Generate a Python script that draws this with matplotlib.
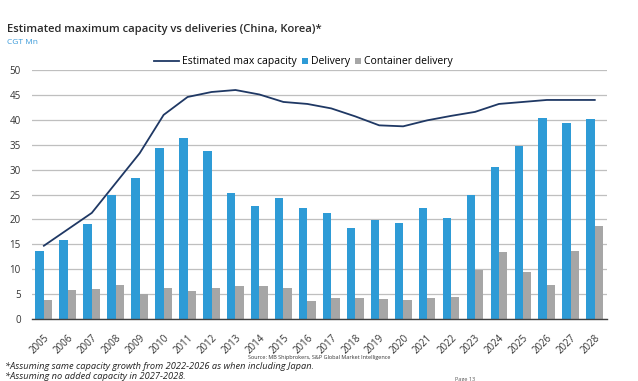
import matplotlib
matplotlib.use("Agg")
import matplotlib.pyplot as plt
import numpy as np

years = [str(y) for y in range(2005, 2029)]
delivery = [13.7, 15.9, 19.1, 24.9, 28.3, 34.3, 36.3, 33.7, 25.3, 22.7, 24.3, 22.3,
            21.3, 18.3, 19.9, 19.3, 22.3, 20.3, 24.9, 30.5, 34.7, 40.4, 39.4, 40.2]
container = [3.8, 5.9, 6.0, 6.9, 5.1, 6.2, 5.6, 6.2, 6.6, 6.7, 6.3, 3.6,
             4.2, 4.3, 3.9, 3.8, 4.1, 4.4, 9.9, 13.5, 9.5, 6.8, 13.7, 18.7]
capacity = [14.7, 18.0, 21.3, 27.3, 33.3, 41.0, 44.6, 45.6, 46.0, 45.1, 43.6, 43.2,
            42.3, 40.7, 38.9, 38.7, 39.9, 40.8, 41.6, 43.2, 43.6, 44.0, 44.0, 44.0]
yticks = list(range(0, 55, 5))

plt.rcParams['font.family'] = ['Open Sans', 'DejaVu Sans']

fig = plt.figure(figsize=(6.38, 3.81), dpi=100)
ax = fig.add_axes([0.050, 0.163, 0.901, 0.653])

x = np.arange(len(years))
w = 0.35
blue = '#2E9BD6'
gray = '#A6A6A6'
navy = '#1F3864'
b1 = ax.bar(x - w/2, delivery, width=w, color=blue, label='Delivery', zorder=2)
b2 = ax.bar(x + w/2, container, width=w, color=gray, label='Container delivery', zorder=2)
ln, = ax.plot(x, capacity, color=navy, lw=1.3, label='Estimated max capacity', zorder=3)

ax.set_xlim(-0.5, len(years) - 0.5)
ax.set_ylim(0, 50)
ax.set_yticks(yticks)
ax.set_yticklabels([str(t) for t in yticks], fontsize=7, color='#333333')
ax.set_xticks(x)
ax.set_xticklabels(years, rotation=45, ha='right', rotation_mode='anchor', fontsize=7, color='#333333')
ax.tick_params(length=0)
ax.tick_params(axis='y', pad=8)
ax.tick_params(axis='x', pad=10)
ax.grid(axis='y', color='#BFBFBF', lw=0.9, zorder=0)
for s in ['top', 'right', 'left']:
    ax.spines[s].set_visible(False)
ax.spines['bottom'].set_color('#404040')
ax.spines['bottom'].set_linewidth(1.0)

ax.legend([ln, b1, b2], ['Estimated max capacity', 'Delivery', 'Container delivery'],
          loc='center', bbox_to_anchor=(0.489, 1.033), ncol=3, frameon=False, fontsize=7.5,
          handlelength=0.55, handleheight=0.55, handletextpad=0.3, columnspacing=0.5,
          borderaxespad=0.0, borderpad=0.0)
leg = ax.get_legend()
lh = leg.legend_handles[0]
xd = lh.get_xdata()
lh.set_xdata([xd[0] - 14, xd[-1]])
lh.set_ydata([lh.get_ydata()[0]] * 2)

fig.text(0.011, 0.915, 'Estimated maximum capacity vs deliveries (China, Korea)*',
         fontsize=8.1, fontweight='semibold', color='#2a2a2a', va='baseline')
fig.text(0.011, 0.885, 'CGT Mn', fontsize=6, color='#3A9AD9', va='baseline')
fig.text(0.5, 0.057, 'Source: MB Shipbrokers, S&P Global Market Intelligence',
         fontsize=4, color='#333333', ha='center', va='baseline')
fig.text(0.008, 0.032, '*Assuming same capacity growth from 2022-2026 as when including Japan.',
         fontsize=6.7, style='italic', color='#222222', va='baseline')
fig.text(0.008, 0.004, '*Assuming no added capacity in 2027-2028.',
         fontsize=6.7, style='italic', color='#222222', va='baseline')
fig.text(0.713, 0.0, 'Page 13', fontsize=4, color='#555555', va='baseline')

fig.savefig('out.png', dpi=100)
